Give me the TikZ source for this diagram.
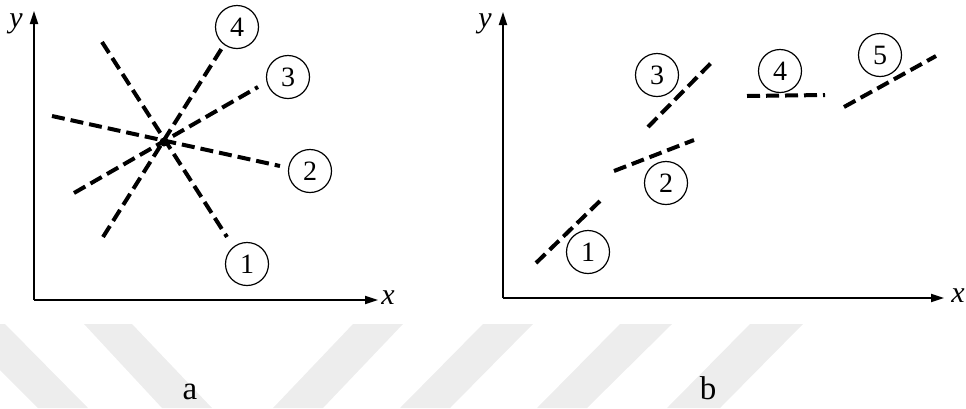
\documentclass[tikz,border=0pt]{standalone}
\usepackage{fontspec}
\setmainfont{Liberation Serif}
\usetikzlibrary{arrows.meta}

\begin{document}
\begin{tikzpicture}[x=1pt, y=-1pt,
    num/.style={draw, circle, line width=1.2pt, minimum size=43pt, inner sep=0pt,
                font=\fontsize{28}{30}\selectfont},
    seg/.style={line width=4pt, dash pattern=on 13pt off 6pt},
    axis/.style={line width=1.8pt, -{Triangle[length=13pt, width=8pt]}},
    lab/.style={font=\fontsize{30}{32}\selectfont\itshape},
    panel/.style={font=\fontsize{33}{35}\selectfont, anchor=base},
    wm/.style={fill=black!7},
]
\useasboundingbox (0,0) rectangle (966,408);
\fill[wm] (0,324) -- (5,324) -- (88,408) -- (38,408) -- (0,370) -- cycle;
\fill[wm] (84,324) -- (132,324) -- (212,408) -- (162,408) -- cycle;
\fill[wm] (353,324) -- (403,324) -- (323,408) -- (273,408) -- cycle;
\fill[wm] (483,324) -- (533,324) -- (450,408) -- (400,408) -- cycle;
\fill[wm] (620,324) -- (672,324) -- (587,408) -- (537,408) -- cycle;
\fill[wm] (750,324) -- (803,324) -- (720,408) -- (667,408) -- cycle;

\coordinate (oa) at (34,300);
\coordinate (ya) at (34,11);
\coordinate (xa) at (378,300);
\draw[axis] (oa) -- (ya);
\draw[axis] (oa) -- (xa);
\node[lab] (ylab-a) at (16,24) {y};
\node[lab] (xlab-a) at (388,298) {x};
\coordinate (c) at (164,142);
\coordinate (a1s) at (102,42);  \coordinate (a1e) at (227,237);
\coordinate (a2s) at (52,116);  \coordinate (a2e) at (280,166);
\coordinate (a3s) at (74,193);  \coordinate (a3e) at (258,87);
\coordinate (a4s) at (103,237); \coordinate (a4e) at (222,48);
\draw[seg] (a1s) -- (a1e);
\draw[seg] (a2s) -- (a2e);
\draw[seg] (a3s) -- (a3e);
\draw[seg] (a4s) -- (a4e);
\fill (c) circle (4.5pt);
\node[num] (a1) at (247,264) {1};
\node[num] (a2) at (310,171) {2};
\node[num] (a3) at (288,77)  {3};
\node[num] (a4) at (237,27)  {4};
\node[panel] (pa) at (190,399) {a};

\coordinate (ob) at (503,298);
\coordinate (yb) at (503,12);
\coordinate (xb) at (944,298);
\draw[axis] (ob) -- (yb);
\draw[axis] (ob) -- (xb);
\node[lab] (ylab-b) at (485,24) {y};
\node[lab] (xlab-b) at (958,296) {x};
\coordinate (b1s) at (536,263); \coordinate (b1e) at (601,200);
\coordinate (b2s) at (614,171); \coordinate (b2e) at (694,140);
\coordinate (b3s) at (648,127); \coordinate (b3e) at (714,60);
\coordinate (b4s) at (747,96);  \coordinate (b4e) at (825,95);
\coordinate (b5s) at (844,107); \coordinate (b5e) at (936,56);
\draw[seg] (b1s) -- (b1e);
\draw[seg] (b2s) -- (b2e);
\draw[seg] (b3s) -- (b3e);
\draw[seg] (b4s) -- (b4e);
\draw[seg] (b5s) -- (b5e);
\node[num] (b1) at (588,252) {1};
\node[num] (b2) at (666,183) {2};
\node[num] (b3) at (657,75)  {3};
\node[num] (b4) at (780,71)  {4};
\node[num] (b5) at (880,55)  {5};
\node[panel] (pb) at (708,399) {b};
\end{tikzpicture}
\end{document}
